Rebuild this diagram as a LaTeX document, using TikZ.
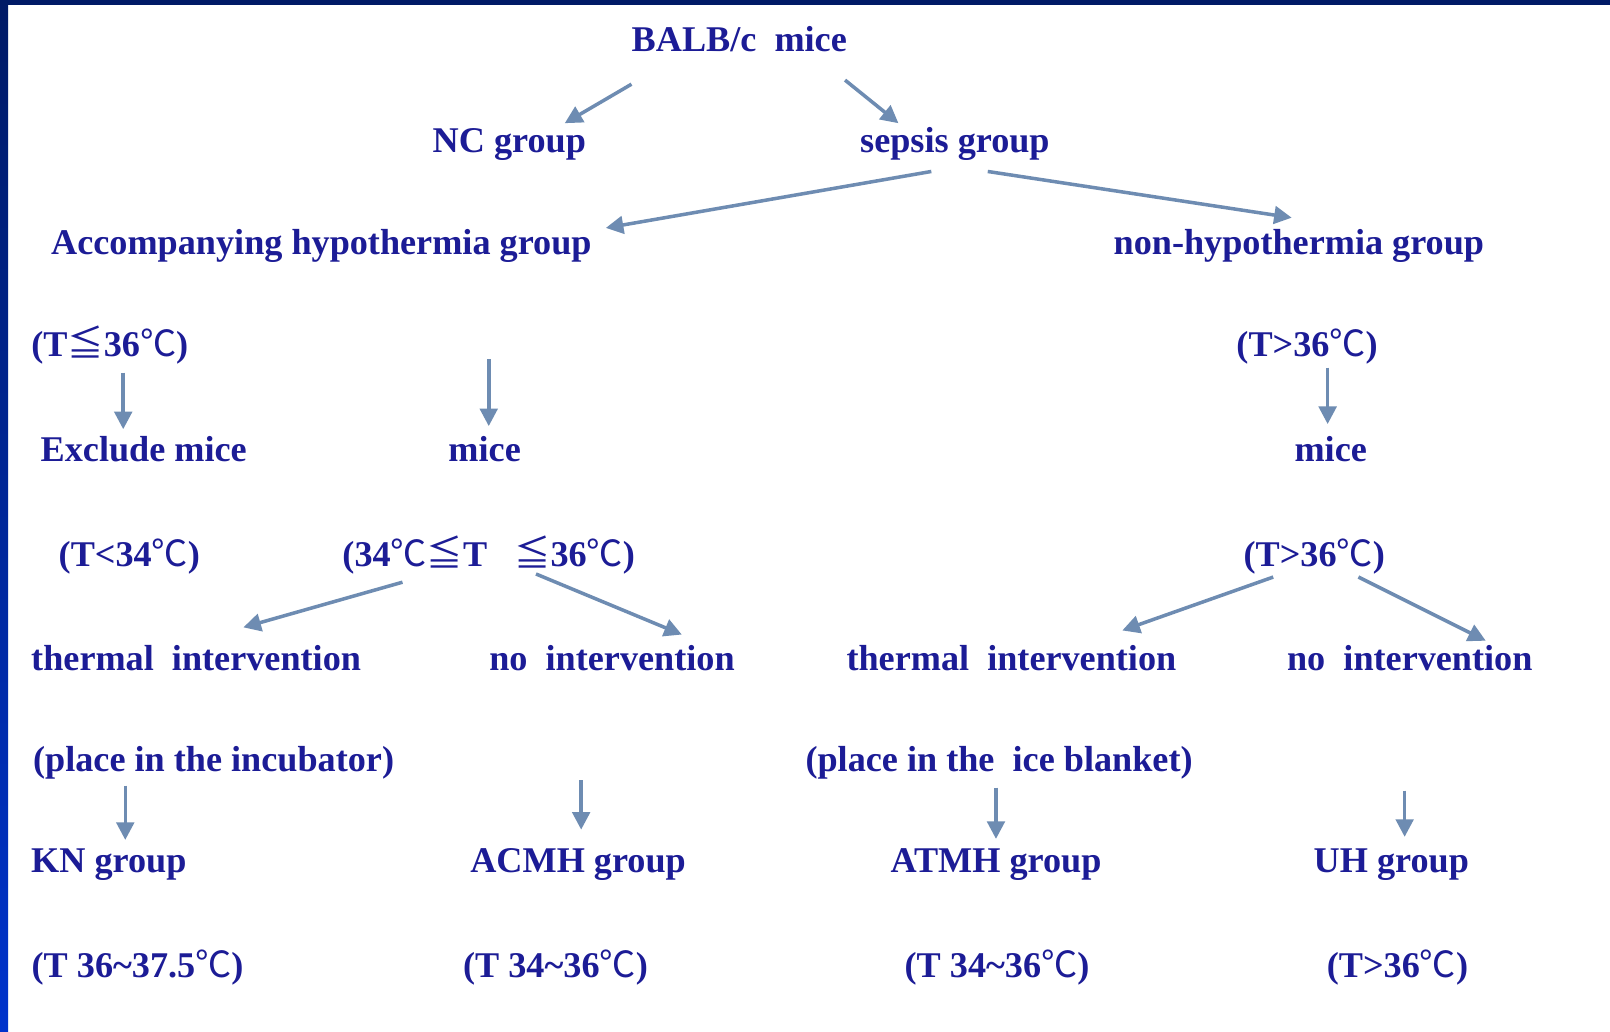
\documentclass[tikz,border=0pt]{standalone}
\usepackage{fontspec}
\setmainfont{Liberation Serif}
\newfontfamily\cjk{Noto Sans CJK SC}
\usepackage{tikz}
\usetikzlibrary{arrows.meta,calc}
\definecolor{mcnavy}{RGB}{0,26,102}
\definecolor{mcbright}{RGB}{0,51,204}
\definecolor{mctext}{RGB}{28,28,150}
\definecolor{mcarrow}{RGB}{110,140,178}
\newcommand{\degc}{{\cjk\mdseries ℃}}
\newcommand{\lesym}{{\cjk\mdseries ≦}}

\begin{document}
\begin{tikzpicture}[
    x=0.010268cm, y=-0.010268cm,
    lbl/.style={font=\fontsize{10.3}{12}\selectfont\bfseries, text=mctext,
                inner sep=0pt, text height=7.7pt, text depth=2.6pt},
    arr/.style={-{Triangle[length=5pt,width=5pt]}, line width=1pt, mcarrow},
  ]
  % Rahmen
  \fill[white] (0,0) rectangle (1568,1005);
  \shade[top color=mcnavy, bottom color=mcbright] (0,0) rectangle (7.8,1005);
  \fill[mcnavy] (0,0) rectangle (1568,4.9);
  \useasboundingbox (0,0) rectangle (1568,1005);

  % Ebene 1-2
  \node[lbl] (balb) at (720,41) {BALB/c\ \ mice};
  \node[lbl] (nc) at (496,140) {NC group};
  \node[lbl] (sepsis) at (930,140) {sepsis group};
  \node[lbl] (ahg) at (313,239) {Accompanying hypothermia group};
  \node[lbl] (nhg) at (1265,239) {non-hypothermia group};

  % Temperaturen
  \node[lbl] (lowt) at (107,338) {(T\lesym36\degc)};
  \node[lbl] (hight) at (1273,338) {(T>36\degc)};
  \node[lbl] (excl) at (140,441) {Exclude mice};
  \node[lbl] (micel) at (472,441) {mice};
  \node[lbl] (micer) at (1296,441) {mice};
  \node[lbl] (vlow) at (126,543) {(T<34\degc)};
  \node[lbl] (range) at (476,543) {(34\degc\lesym T\ \ \ \lesym36\degc)};
  \node[lbl] (highr) at (1280,543) {(T>36\degc)};

  % Interventionen
  \node[lbl] (thl) at (191,644) {thermal\ \ intervention};
  \node[lbl] (nol) at (596,644) {no\ \ intervention};
  \node[lbl] (thr) at (985,644) {thermal\ \ intervention};
  \node[lbl] (nor) at (1373,644) {no\ \ intervention};
  \node[lbl] (incub) at (208,743) {(place in the incubator)};
  \node[lbl] (ice) at (973,743) {(place in the\ \ ice blanket)};

  % Gruppen
  \node[lbl] (kn) at (106,841) {KN group};
  \node[lbl] (acmh) at (563,841) {ACMH group};
  \node[lbl] (atmh) at (970,841) {ATMH group};
  \node[lbl] (uh) at (1355,841) {UH group};
  \node[lbl] (tkn) at (134,943) {(T 36\textasciitilde37.5\degc)};
  \node[lbl] (tacmh) at (541,943) {(T 34\textasciitilde36\degc)};
  \node[lbl] (tatmh) at (971,943) {(T 34\textasciitilde36\degc)};
  \node[lbl] (tuh) at (1361,943) {(T>36\degc)};

  % Pfeile
  \draw[arr] ($(balb)+(-105,41)$) -- ($(nc)+(54,-20)$);
  \draw[arr] ($(balb)+(103,37)$) -- ($(sepsis)+(-55,-20)$);
  \draw[arr] ($(sepsis)+(-23,27)$) -- ($(ahg)+(277,-17)$);
  \draw[arr] ($(sepsis)+(32,27)$) -- ($(nhg)+(-7,-27)$);
  \draw[arr] ($(lowt)+(13,25)$) -- ($(excl)+(-20,-23)$);
  \draw[arr] ($(ahg)+(163,111)$) -- ($(micel)+(4,-26)$);
  \draw[arr] ($(hight)+(20,20)$) -- ($(micer)+(-3,-28)$);
  \draw[arr] ($(range)+(-84,24)$) -- ($(thl)+(46,-33)$);
  \draw[arr] ($(range)+(46,16)$) -- ($(nol)+(68,-26)$);
  \draw[arr] ($(highr)+(-40,19)$) -- ($(thr)+(108,-30)$);
  \draw[arr] ($(highr)+(43,19)$) -- ($(nor)+(74,-20)$);
  \draw[arr] ($(incub)+(-86,22)$) -- ($(kn)+(16,-23)$);
  \draw[arr] ($(nol)+(-30,116)$) -- ($(acmh)+(3,-33)$);
  \draw[arr] ($(ice)+(-3,24)$) -- ($(atmh)+(0,-24)$);
  \draw[arr] ($(nor)+(-5,126)$) -- ($(uh)+(13,-26)$);
\end{tikzpicture}
\end{document}
